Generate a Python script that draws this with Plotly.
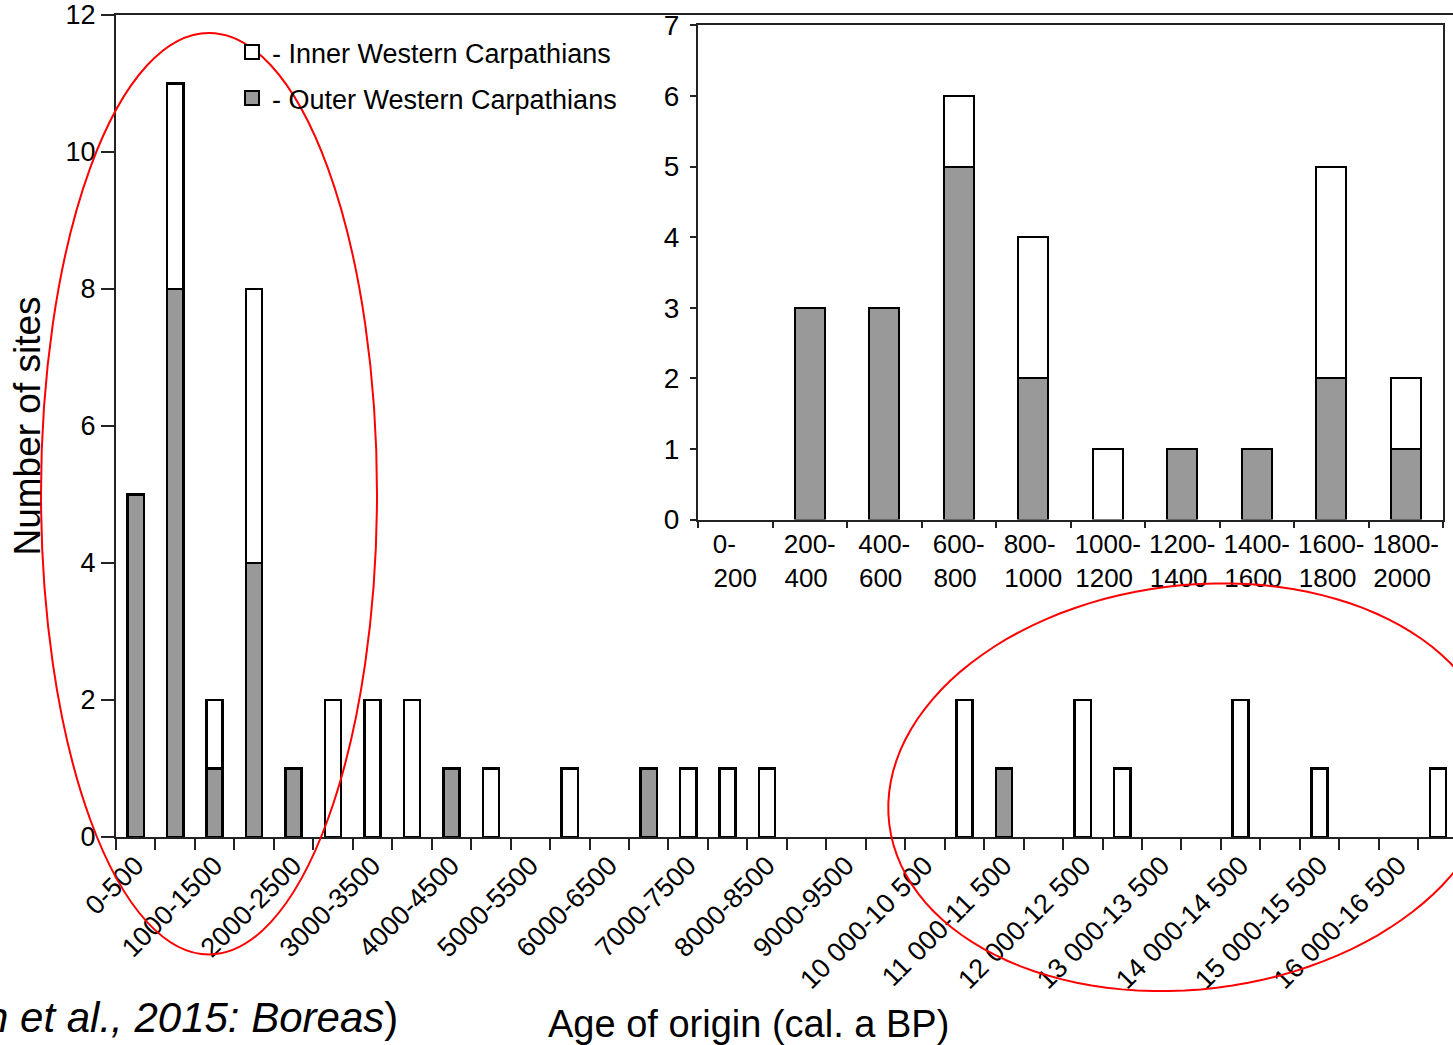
import math
import plotly.graph_objects as go

# ---------------- data ----------------
main_bins = ["0-500", "500-1000", "1000-1500", "1500-2000", "2000-2500", "2500-3000",
             "3000-3500", "3500-4000", "4000-4500", "4500-5000", "5000-5500", "5500-6000",
             "6000-6500", "6500-7000", "7000-7500", "7500-8000", "8000-8500", "8500-9000",
             "9000-9500", "9500-10 000", "10 000-10 500", "10 500-11 000", "11 000-11 500",
             "11 500-12 000", "12 000-12 500", "12 500-13 000", "13 000-13 500",
             "13 500-14 000", "14 000-14 500", "14 500-15 000", "15 000-15 500",
             "15 500-16 000", "16 000-16 500", "16 500-17 000"]
main_outer = [5, 8, 1, 4, 1, 0, 0, 0, 1, 0, 0, 0, 0, 1, 0, 0, 0,
              0, 0, 0, 0, 0, 1, 0, 0, 0, 0, 0, 0, 0, 0, 0, 0, 0]
main_inner = [0, 3, 1, 4, 0, 2, 2, 2, 0, 1, 0, 1, 0, 0, 1, 1, 1,
              0, 0, 0, 0, 2, 0, 0, 2, 1, 0, 0, 2, 0, 1, 0, 0, 1]

inset_bins = ["0-200", "200-400", "400-600", "600-800", "800-1000",
              "1000-1200", "1200-1400", "1400-1600", "1600-1800", "1800-2000"]
inset_outer = [0, 3, 3, 5, 2, 0, 1, 1, 2, 1]
inset_inner = [0, 0, 0, 1, 2, 1, 0, 0, 3, 1]

legend_names = ["- Inner Western Carpathians", "- Outer Western Carpathians"]
y_title = "Number of sites"
x_title = "Age of origin (cal. a BP)"
citation = "<i>h et al., 2015: Boreas</i>)"

# ---------------- layout helpers ----------------
W, H = 1453, 1045
ML, MR, MT, MB = 116, 0, 11, 208
FONT = "Arial, 'Liberation Sans', sans-serif"
GRAY = "#999999"
AX = "#222222"


def px(x):
    return (x - ML) / (W - ML - MR)


def py(y):
    return (H - MB - y) / (H - MT - MB)


def nz(v):
    return [None if a == 0 else a for a in v]


def two_line(lbl):
    lo, hi = lbl.split("-")
    top, bot = lo + "-", hi

    # emulate left alignment of the two lines
    def w(s):
        return sum(0.333 if c == "-" else 0.556 for c in s)
    d = w(top) - w(bot)
    n = int(round(abs(d) / 0.278))
    if d > 0:
        bot = bot + "\u00a0" * n
    else:
        top = top + "\u00a0" * n
    return top + "<br>" + bot


def ellipse_path(cx, cy, a, b, deg, n=120):
    th = math.radians(deg)
    pts = []
    for k in range(n):
        t = 2 * math.pi * k / n
        x = cx + a * math.cos(t) * math.cos(th) - b * math.sin(t) * math.sin(th)
        y = cy + a * math.cos(t) * math.sin(th) + b * math.sin(t) * math.cos(th)
        pts.append("%.5f,%.5f" % (px(x), py(y)))
    return "M" + " L".join(pts) + " Z"


fig = go.Figure()

# main chart
fig.add_trace(go.Bar(x=main_bins, y=nz(main_outer), showlegend=False,
                     width=0.41, marker=dict(color=GRAY, line=dict(color="black", width=2.5)),
                     xaxis="x", yaxis="y"))
fig.add_trace(go.Bar(x=main_bins, y=nz(main_inner), showlegend=False,
                     width=0.41, marker=dict(color="white", line=dict(color="black", width=2.5)),
                     xaxis="x", yaxis="y"))
# inset
fig.add_trace(go.Bar(x=inset_bins, y=nz(inset_outer), showlegend=False, width=0.40,
                     marker=dict(color=GRAY, line=dict(color="black", width=2)),
                     xaxis="x2", yaxis="y2"))
fig.add_trace(go.Bar(x=inset_bins, y=nz(inset_inner), showlegend=False, width=0.40,
                     marker=dict(color="white", line=dict(color="black", width=2)),
                     xaxis="x2", yaxis="y2"))

# legend entries (square symbols like the original key)
fig.add_trace(go.Scatter(x=[None], y=[None], mode="markers", name=legend_names[0],
                         legendgroup="i", legendrank=1,
                         marker=dict(symbol="square", size=14, color="white",
                                     line=dict(color="black", width=2))))
fig.add_trace(go.Scatter(x=[None], y=[None], mode="markers", name=legend_names[1],
                         legendgroup="o", legendrank=2,
                         marker=dict(symbol="square", size=14, color=GRAY,
                                     line=dict(color="black", width=2))))

main_ticktext = [b if i % 2 == 0 else "" for i, b in enumerate(main_bins)]
n_vis = (W - ML - MR) / 39.46

fig.update_layout(
    width=W, height=H,
    margin=dict(l=ML, r=MR, t=MT, b=MB, pad=0),
    paper_bgcolor="white", plot_bgcolor="white",
    barmode="stack",
    font=dict(family=FONT, color="black"),
    xaxis=dict(type="category", domain=[0, 1], range=[-0.5, -0.5 + n_vis],
               tickmode="array", tickvals=main_bins, ticktext=main_ticktext,
               tickson="boundaries", ticks="outside", ticklen=11, tickwidth=2, tickcolor=AX,
               tickangle=-45, tickfont=dict(size=27),
               showline=True, linecolor=AX, linewidth=2, mirror=True,
               showgrid=False, zeroline=False),
    yaxis=dict(domain=[0, 1], range=[0, 12], dtick=2, ticks="outside", ticklen=13,
               tickwidth=2, tickcolor=AX, tickfont=dict(size=27),
               showline=True, linecolor=AX, linewidth=2,
               showgrid=False, zeroline=False,
               title=dict(text=y_title, font=dict(size=37), standoff=14)),
    xaxis2=dict(type="category", domain=[px(698), px(1443)], anchor="y2",
                range=[-0.5, len(inset_bins) - 0.5],
                tickmode="array", tickvals=inset_bins,
                ticktext=[two_line(b) for b in inset_bins],
                tickson="boundaries", ticks="outside", ticklen=6, tickwidth=1.5, tickcolor=AX,
                tickangle=0, tickfont=dict(size=26),
                showline=True, linecolor=AX, linewidth=2, mirror=True,
                showgrid=False, zeroline=False),
    yaxis2=dict(domain=[py(518), py(21.5)], anchor="x2", range=[0, 7], dtick=1,
                ticks="outside", ticklen=6, tickwidth=1.5, tickcolor=AX,
                tickfont=dict(size=28), ticklabelstandoff=5,
                showline=True, linecolor=AX, linewidth=2, mirror=True,
                showgrid=False, zeroline=False),
    legend=dict(x=px(232), y=py(24), xanchor="left", yanchor="top",
                font=dict(size=27), bgcolor="rgba(0,0,0,0)",
                traceorder="grouped", tracegroupgap=8, itemwidth=30),
    annotations=[
        dict(text=x_title, x=px(748), y=py(1025), xref="paper", yref="paper",
             xanchor="center", yanchor="middle", showarrow=False, font=dict(size=38)),
        dict(text=citation, x=px(400), y=py(1018), xref="paper", yref="paper",
             xanchor="right", yanchor="middle", showarrow=False, font=dict(size=42)),
    ],
    shapes=[
        dict(type="circle", xref="paper", yref="paper", layer="above",
             x0=px(41), x1=px(377), y0=py(955), y1=py(29),
             line=dict(color="#ff0000", width=2)),
        dict(type="path", xref="paper", yref="paper", layer="above",
             path=ellipse_path(1192, 787, 305, 203, -7),
             line=dict(color="#ff0000", width=2)),
    ],
)

fig.write_html("out.html", config={"displayModeBar": False},
               post_script="document.body.style.margin='0';")
